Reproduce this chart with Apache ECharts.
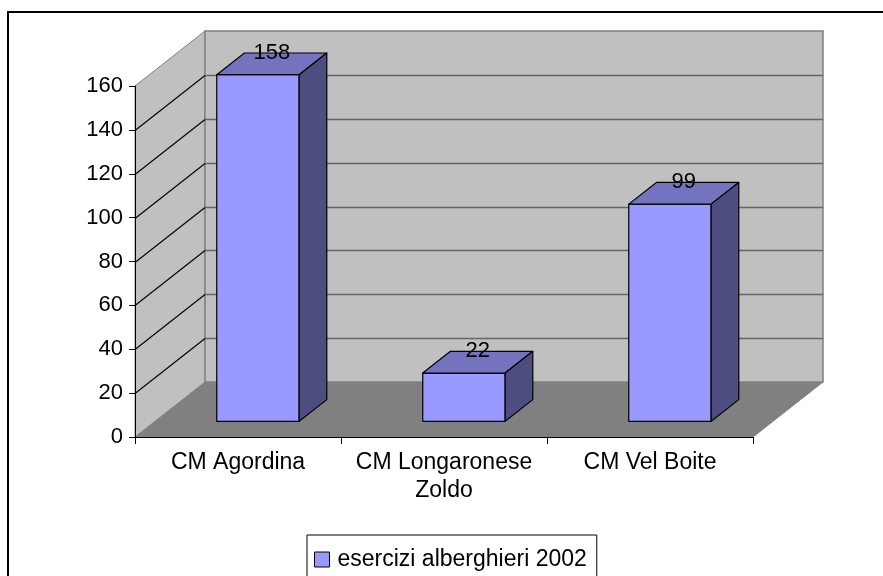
<!DOCTYPE html>
<html>
<head>
<meta charset="utf-8">
<script src="https://cdn.jsdelivr.net/npm/echarts@6/dist/echarts.min.js"></script>
<style>
  html, body { margin: 0; padding: 0; background: #fff; }
  #chart { width: 883px; height: 576px; }
</style>
</head>
<body>
<div id="chart"></div>
<script>
// data
const categories = ['CM Agordina', 'CM Longaronese\nZoldo', 'CM Vel Boite'];
const seriesName = 'esercizi alberghieri 2002';
const values = [158, 22, 99];
const yTicks = [0, 20, 40, 60, 80, 100, 120, 140, 160];

// 3d look (pixels)
const DX = 70;
const DY = -55;
const F1 = 0.285;   // bar front plane, share of depth
const F2 = 0.68;    // bar back plane
const BAR = 0.4;    // bar width, share of band

const font = 'Liberation Sans, Arial, sans-serif';

const chart = echarts.init(document.getElementById('chart'));

function renderWalls(params, api) {
  const cs = params.coordSys;
  const x = cs.x, y = cs.y, w = cs.width, h = cs.height;
  const kids = [];
  // floor
  kids.push({ type: 'polygon', shape: { points: [[x, y + h], [x + w, y + h], [x + w + DX, y + h + DY], [x + DX, y + h + DY]] },
    style: { fill: '#808080', stroke: '#808080', lineWidth: 1 } });
  // side wall
  kids.push({ type: 'polygon', shape: { points: [[x, y + h], [x, y], [x + DX, y + DY], [x + DX, y + h + DY]] },
    style: { fill: '#C0C0C0', stroke: '#808080', lineWidth: 1 } });
  // back wall
  kids.push({ type: 'polygon', shape: { points: [[x + DX, y + DY], [x + w + DX, y + DY], [x + w + DX, y + h + DY], [x + DX, y + h + DY]] },
    style: { fill: '#C0C0C0', stroke: '#808080', lineWidth: 1.5 } });
  yTicks.forEach(function (v) {
    if (v === 0 || v === yTicks[yTicks.length - 1]) return;
    const yy = Math.round(api.coord([0, v])[1]) + 0.5;
    kids.push({ type: 'line', shape: { x1: x + DX, y1: yy + DY, x2: x + w + DX, y2: yy + DY },
      style: { stroke: '#666', lineWidth: 1.3 } });
    kids.push({ type: 'line', shape: { x1: x, y1: yy, x2: x + DX, y2: yy + DY },
      style: { stroke: '#000', lineWidth: 1.1 } });
  });
  return { type: 'group', children: kids };
}

function renderBar(params, api) {
  const i = api.value(0);
  const v = api.value(1);
  const top = api.coord([i, v]);
  const base = api.coord([i, 0]);
  const bw = api.size([1, 0])[0] * BAR;
  const x0 = top[0] - bw / 2 + F1 * DX;
  const x1 = x0 + bw;
  const yt = top[1] + F1 * DY;
  const yb = base[1] + F1 * DY;
  const ddx = (F2 - F1) * DX;
  const ddy = (F2 - F1) * DY;
  const line = { stroke: '#000', lineWidth: 1.2, lineJoin: 'round' };
  return {
    type: 'group',
    children: [
      { type: 'polygon', shape: { points: [[x0, yb], [x1, yb], [x1, yt], [x0, yt]] },
        style: Object.assign({ fill: '#9999FF' }, line) },
      { type: 'polygon', shape: { points: [[x0, yt], [x1, yt], [x1 + ddx, yt + ddy], [x0 + ddx, yt + ddy]] },
        style: Object.assign({ fill: '#7373BF' }, line) },
      { type: 'polygon', shape: { points: [[x1, yb], [x1 + ddx, yb + ddy], [x1 + ddx, yt + ddy], [x1, yt]] },
        style: Object.assign({ fill: '#4D4D80' }, line) },
      { type: 'text', x: (x0 + x1) / 2 + ddx / 2, y: yt + ddy,
        style: { text: String(v), fill: '#000', font: '22px ' + font, align: 'center', verticalAlign: 'middle' } }
    ]
  };
}

const option = {
  animation: false,
  grid: { left: 135, right: 130, top: 86, bottom: 139 },
  graphic: [{
    type: 'rect', z: 100, silent: true,
    shape: { x: 8, y: 12, width: 1000, height: 1000 },
    style: { fill: 'none', stroke: '#000', lineWidth: 2 }
  }],
  legend: {
    data: [{ name: seriesName, icon: 'rect' }],
    left: 307, top: 535,
    padding: [13, 10, 13, 7],
    borderColor: '#000', borderWidth: 1,
    itemWidth: 15, itemHeight: 15,
    itemStyle: { borderColor: '#000', borderWidth: 1 },
    textStyle: { fontFamily: font, fontSize: 23, color: '#000', padding: [0, 0, 0, 3] }
  },
  xAxis: {
    type: 'category',
    data: categories,
    z: 5,
    axisLine: { lineStyle: { color: '#000', width: 1 } },
    axisTick: { show: true, length: 7, lineStyle: { color: '#000' } },
    axisLabel: { fontFamily: font, fontSize: 23, color: '#000', margin: 12, lineHeight: 28, interval: 0 },
    splitLine: { show: false }
  },
  yAxis: {
    type: 'value',
    min: 0, max: 160, interval: 20,
    z: 5,
    axisLine: { show: true, lineStyle: { color: '#000', width: 1 } },
    axisTick: { show: true, length: 6, lineStyle: { color: '#000' } },
    axisLabel: { fontFamily: font, fontSize: 22, color: '#000', margin: 12 },
    splitLine: { show: false }
  },
  series: [
    {
      type: 'custom',
      z: 1,
      silent: true,
      renderItem: renderWalls,
      data: [[0, 0]]
    },
    {
      name: seriesName,
      type: 'custom',
      z: 2,
      itemStyle: { color: '#9999FF' },
      renderItem: renderBar,
      encode: { x: 0, y: 1 },
      data: values.map(function (v, i) { return [i, v]; })
    }
  ]
};

chart.setOption(option);
</script>
</body>
</html>
